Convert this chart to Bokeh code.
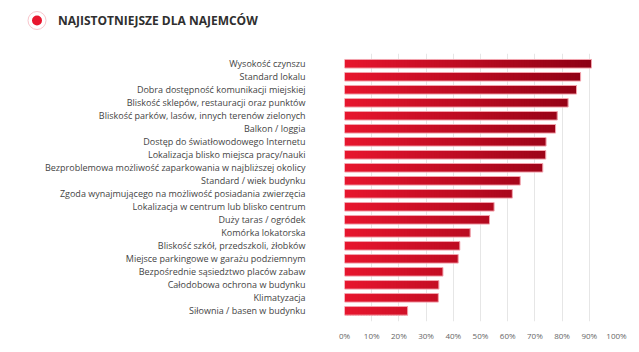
from bokeh.plotting import figure
from bokeh.models import Range1d, FixedTicker, ColumnDataSource
from bokeh.layouts import column
from bokeh.core.properties import value
from bokeh.embed import file_html
from bokeh.resources import INLINE

categories = [
    "Wysokość czynszu",
    "Standard lokalu",
    "Dobra dostępność komunikacji miejskiej",
    "Bliskość sklepów, restauracji oraz punktów",
    "Bliskość parków, lasów, innych terenów zielonych",
    "Balkon / loggia",
    "Dostęp do światłowodowego Internetu",
    "Lokalizacja blisko miejsca pracy/nauki",
    "Bezproblemowa możliwość zaparkowania w najbliższej okolicy",
    "Standard / wiek budynku",
    "Zgoda wynajmującego na możliwość posiadania zwierzęcia",
    "Lokalizacja w centrum lub blisko centrum",
    "Duży taras / ogródek",
    "Komórka lokatorska",
    "Bliskość szkół, przedszkoli, żłobków",
    "Miejsce parkingowe w garażu podziemnym",
    "Bezpośrednie sąsiedztwo placów zabaw",
    "Całodobowa ochrona w budynku",
    "Klimatyzacja",
    "Siłownia / basen w budynku",
]
values = [90.8, 86.8, 85.3, 82.2, 78.2, 77.6, 74.1, 74.0, 72.9, 64.6,
          61.7, 55.0, 53.3, 46.2, 42.4, 41.8, 36.2, 34.7, 34.5, 23.2]
tick_values = [0, 10, 20, 30, 40, 50, 60, 70, 80, 90, 100]
tick_labels = [f"{t}%" for t in tick_values]
title_text = "NAJISTOTNIEJSZE DLA NAJEMCÓW"

FONT = "Open Sans"
C0 = (232, 22, 46)   # gradient start (left)
C1 = (140, 0, 20)    # gradient end (~91%)
G_END = 91.0

def grad(x):
    t = max(0.0, min(1.0, x / G_END))
    return "#%02x%02x%02x" % tuple(int(round(a + (b - a) * t)) for a, b in zip(C0, C1))

ys = list(range(len(categories)))

# ---- header (title + marker) ----
HEAD_H = 53
h = figure(width=639, height=HEAD_H, output_backend="svg", toolbar_location=None,
           x_range=Range1d(0, 639), y_range=Range1d(HEAD_H, 0),
           min_border=0, x_axis_location=None, y_axis_location=None)
h.frame_align = False
h.outline_line_color = None
h.grid.grid_line_color = None
h.background_fill_color = "white"
h.border_fill_color = "white"
h.scatter(x=[36.5], y=[20], size=18, marker="circle", fill_color="white",
          line_color="#f8c6cc", line_width=1)
h.scatter(x=[36.5], y=[20], size=10, marker="circle", fill_color="#e8162e", line_color=None)
h.text(x=[57.5], y=[20], text=[title_text], text_align="left", text_baseline="middle",
       text_font=value(FONT), text_font_style="bold", text_font_size="12px", text_color="#2f2f2f")

# ---- main chart ----
p = figure(width=639, height=352 - HEAD_H, output_backend="svg", toolbar_location=None,
           x_range=Range1d(0, 100), y_range=Range1d(19.82, -0.79),
           min_border_left=344, min_border_right=23, min_border_top=0, min_border_bottom=31)
p.frame_align = False
p.outline_line_color = None
p.background_fill_color = "white"
p.border_fill_color = "white"

# gradient bars built from slices
step = 1.0
sl, sr, sy, sc = [], [], [], []
for y, v in zip(ys, values):
    k = 0.0
    while k < v:
        sl.append(k)
        sr.append(min(k + step + 0.35, v))
        sy.append(y)
        sc.append(grad(k + step / 2))
        k += step
src = ColumnDataSource(dict(left=sl, right=sr, y=sy, c=sc))
p.hbar(y="y", left="left", right="right", height=0.66, fill_color="c", line_color=None, source=src)
p.hbar(y=ys, left=0, right=values, height=0.66, fill_alpha=0, line_color="#f3a3ad", line_width=1)

# axes
p.xaxis.ticker = FixedTicker(ticks=tick_values)
p.xaxis.major_label_overrides = {t: l for t, l in zip(tick_values, tick_labels)}
p.xaxis.axis_line_color = None
p.xaxis.major_tick_line_color = None
p.xaxis.minor_tick_line_color = None
p.xaxis.major_tick_out = 0
p.xaxis.major_label_standoff = 8
p.xaxis.major_label_text_font = FONT
p.xaxis.major_label_text_font_size = "8px"
p.xaxis.major_label_text_color = "#666666"

p.yaxis.ticker = FixedTicker(ticks=ys)
p.yaxis.major_label_overrides = {y: c for y, c in zip(ys, categories)}
p.yaxis.axis_line_color = None
p.yaxis.major_tick_line_color = None
p.yaxis.minor_tick_line_color = None
p.yaxis.major_tick_out = 0
p.yaxis.major_label_standoff = 39
p.yaxis.major_label_text_font = FONT
p.yaxis.major_label_text_font_size = "9px"
p.yaxis.major_label_text_color = "#444444"

p.xgrid.ticker = FixedTicker(ticks=tick_values)
p.xgrid.grid_line_color = "#e6e6e6"
p.ygrid.grid_line_color = None

layout = column(h, p, spacing=0)
open("out.html", "w").write(file_html(layout, INLINE))
